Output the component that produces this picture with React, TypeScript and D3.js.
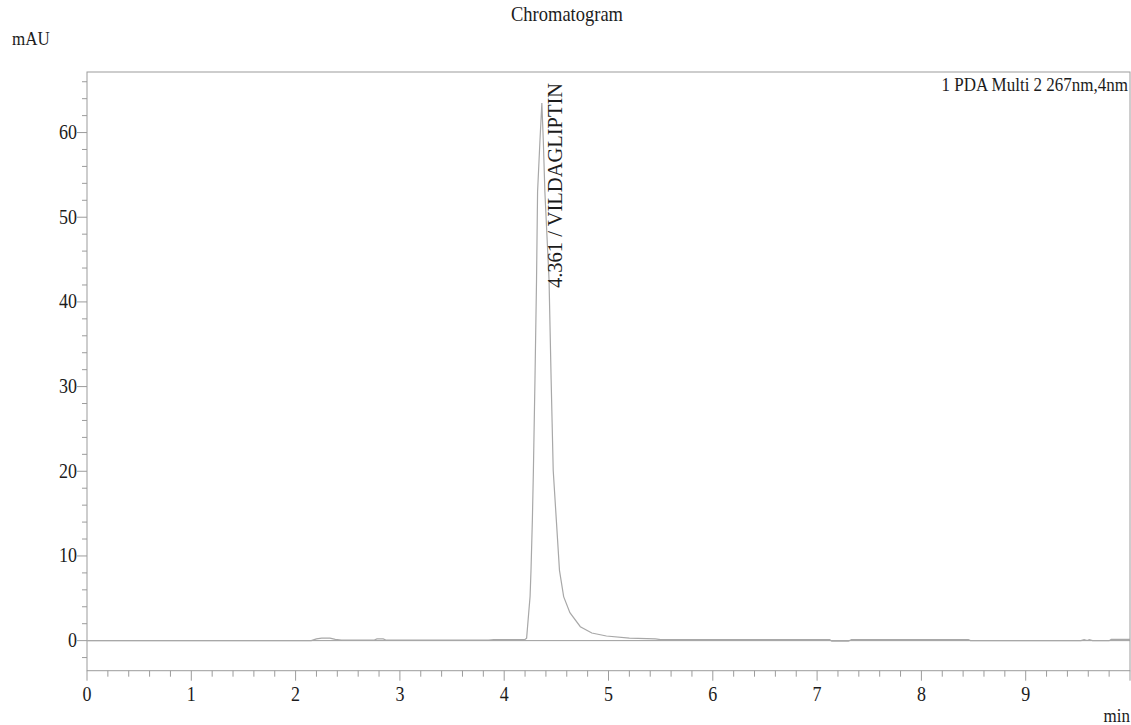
import React from "react";
import * as d3 from "d3";

// Chromatogram trace: retention time (min) and detector response (mAU)
const timeMin = [
  0, 2.15, 2.2, 2.25, 2.33, 2.38, 2.44, 2.75, 2.78, 2.84, 2.87, 3.85, 3.9, 4.1, 4.2,
  4.215, 4.235, 4.248, 4.257, 4.27, 4.28, 4.295, 4.31, 4.32, 4.343, 4.361, 4.375,
  4.39, 4.43, 4.45, 4.47, 4.5, 4.53, 4.57, 4.63, 4.73, 4.84, 4.98, 5.2, 5.45, 5.5,
  7.12, 7.14, 7.3, 7.33, 8.45, 8.47, 9.53, 9.56, 9.59, 9.61, 9.64, 9.8, 9.82, 10,
];
const responseMAU = [
  0, 0, 0.2, 0.3, 0.3, 0.15, 0.05, 0.05, 0.2, 0.2, 0.05, 0.05, 0.12, 0.12, 0.15,
  0.3, 3.3, 5.2, 8.3, 14.2, 20.1, 30.8, 42.6, 53, 59.1, 63.5, 59,
  53, 42.6, 30.8, 20.1, 14.2, 8.3, 5.2, 3.3, 1.65, 0.9, 0.55, 0.3, 0.2, 0.12,
  0.12, -0.05, -0.05, 0.12, 0.12, 0, 0, 0.12, 0.02, 0.12, 0, 0, 0.15, 0.15,
];

const xMajorTicks = [0, 1, 2, 3, 4, 5, 6, 7, 8, 9, 10];
const xTickLabels = ["0", "1", "2", "3", "4", "5", "6", "7", "8", "9"];
const yMajorTicks = [0, 10, 20, 30, 40, 50, 60];

const peakTime = 4.361;
const peakName = "VILDAGLIPTIN";
const channelLabel = "1 PDA Multi 2 267nm,4nm";

const W = 1131;
const H = 725;
const left = 87;
const right = 1130;
const top = 72;
const bottom = 670.7;

const axisColor = "#9c9c9c";
const traceColor = "#a8a8a8";
const textColor = "#1c1c1c";
const font = "Liberation Serif";
const stretch = 1.14;

type LabelProps = {
  x: number;
  y: number;
  size: number;
  anchor?: "start" | "middle" | "end";
  children: React.ReactNode;
};

// Report-style label: serif glyphs drawn slightly taller than wide
function Label({ x, y, size, anchor = "start", children }: LabelProps) {
  return (
    <text
      transform={`translate(${x},${y}) scale(1,${stretch})`}
      textAnchor={anchor}
      fontSize={size}
      fill={textColor}
      style={{ fontFamily: font }}
    >
      {children}
    </text>
  );
}

export default function App() {
  const x = d3.scaleLinear().domain([0, 10]).range([left, right]);
  const y = d3.scaleLinear().domain([-3.55, 67.15]).range([bottom, top]);

  const pts: [number, number][] = timeMin.map((t, i) => [t, responseMAU[i]]);
  const line = d3
    .line<[number, number]>()
    .x((d) => x(d[0]))
    .y((d) => y(d[1]));

  const xMinor = d3
    .range(0, 50)
    .map((i) => i * 0.2)
    .filter((t) => Math.abs(t - Math.round(t)) > 1e-6);
  const yMinor = d3
    .range(-1, 34)
    .map((i) => i * 2)
    .filter((v) => v % 10 !== 0);

  return (
    <svg
      width={W}
      height={H}
      style={{ position: "absolute", left: 0, top: 0, background: "#ffffff" }}
    >
      <rect x={0} y={0} width={W} height={H} fill="#ffffff" />
      <Label x={567} y={21} size={18.5} anchor="middle">
        Chromatogram
      </Label>
      <Label x={12} y={45} size={17}>
        mAU
      </Label>

      {/* plot frame */}
      <rect
        x={left}
        y={top}
        width={right - left}
        height={bottom - top}
        fill="none"
        stroke={axisColor}
        strokeWidth={1}
      />

      {/* zero reference */}
      <line x1={left} x2={right} y1={y(0)} y2={y(0)} stroke={axisColor} strokeWidth={1} />

      {/* y ticks */}
      {yMinor.map((v) => (
        <line key={"ym" + v} x1={left - 5} x2={left} y1={y(v)} y2={y(v)} stroke={axisColor} />
      ))}
      {yMajorTicks.map((v) => (
        <g key={"yM" + v}>
          <line x1={left - 10} x2={left} y1={y(v)} y2={y(v)} stroke={axisColor} />
          <Label x={77} y={y(v) + 6.5} size={18} anchor="end">
            {v}
          </Label>
        </g>
      ))}

      {/* x ticks */}
      {xMinor.map((t) => (
        <line key={"xm" + t} x1={x(t)} x2={x(t)} y1={bottom} y2={bottom + 6} stroke={axisColor} />
      ))}
      {xMajorTicks.map((t) => (
        <line key={"xM" + t} x1={x(t)} x2={x(t)} y1={bottom} y2={bottom + 10} stroke={axisColor} />
      ))}
      {xTickLabels.map((s, i) => (
        <Label key={"xl" + s} x={x(i)} y={700.5} size={18} anchor="middle">
          {s}
        </Label>
      ))}
      <Label x={1130} y={722} size={17} anchor="end">
        min
      </Label>

      {/* trace */}
      <path d={line(pts) ?? ""} fill="none" stroke={traceColor} strokeWidth={1.2} />

      {/* channel legend */}
      <Label x={1128} y={91} size={17} anchor="end">
        {channelLabel}
      </Label>

      {/* peak annotation */}
      <text
        transform={`translate(${x(peakTime) + 20},288) rotate(-90)`}
        fontSize={20.5}
        fill={textColor}
        style={{ fontFamily: font }}
      >
        {`${peakTime.toFixed(3)} / ${peakName}`}
      </text>
    </svg>
  );
}
